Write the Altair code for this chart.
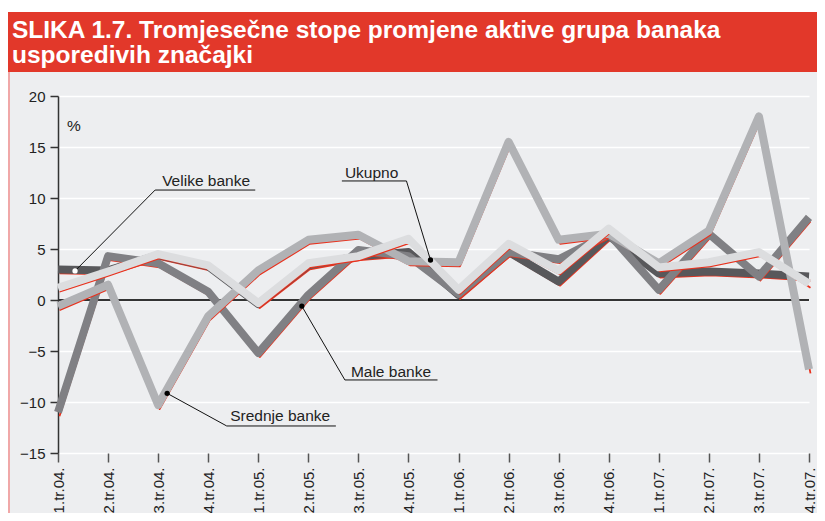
import altair as alt
import pandas as pd

# ---------------- data ----------------
quarters = ["1.tr.04.", "2.tr.04.", "3.tr.04.", "4.tr.04.",
            "1.tr.05.", "2.tr.05.", "3.tr.05.", "4.tr.05.",
            "1.tr.06.", "2.tr.06.", "3.tr.06.", "4.tr.06.",
            "1.tr.07.", "2.tr.07.", "3.tr.07.", "4.tr.07."]

series_names = ["Velike banke", "Male banke", "Srednje banke", "Ukupno"]
velike = [3.0, 2.9, 4.4, 3.3, -0.4, 3.4, 4.3, 4.7, 0.5, 4.7, 1.8, 6.3, 2.6, 2.8, 2.6, 2.3]
male = [-11.0, 4.3, 3.6, 0.8, -5.2, 0.5, 4.9, 4.3, 0.6, 4.7, 4.0, 6.5, 1.0, 6.5, 2.3, 8.1]
srednje = [-0.6, 1.5, -10.3, -1.6, 2.9, 5.9, 6.4, 3.8, 3.7, 15.5, 5.9, 6.5, 3.6, 6.8, 18.0, -6.8]
ukupno = [1.2, 2.8, 4.5, 3.4, -0.3, 3.6, 4.3, 6.0, 1.0, 5.5, 2.9, 7.0, 3.2, 3.7, 4.7, 1.6]

series_colors = ["#58585b", "#808084", "#b1b2b5", "#dcdddf"]
red = "#e8321e"

title_lines = ["SLIKA 1.7. Tromjesečne stope promjene aktive grupa banaka",
               "usporedivih značajki"]

# annotation labels (in data coordinates: quarter index, percent)
ann_names = ["Velike banke", "Ukupno", "Male banke", "Srednje banke"]
ann_text_x = [2.08, 5.73, 5.85, 3.44]
ann_text_y = [11.18, 11.96, -7.55, -11.86]
ann_dot_x = [0.34, 7.44, 4.87, 2.18]
ann_dot_y = [2.85, 3.92, -0.6, -9.15]
ann_elbow_x = [1.94, 6.96, 5.73, 3.37]
ann_elbow_y = [10.78, 11.67, -7.84, -12.35]
ann_end_x = [3.94, 5.67, 7.58, 5.55]
ann_end_y = [10.78, 11.67, -7.84, -12.35]
ann_dot_colors = ["white", "black", "black", "black"]

unit_label = ["%"]
unit_x = [0.18]
unit_y = [16.57]

# ---------------- tables ----------------
rows = []
for name, vals in zip(series_names, [velike, male, srednje, ukupno]):
    for i, v in enumerate(vals):
        rows.append({"series": name, "i": i, "v": v})
df = pd.DataFrame(rows)

leader_rows = []
for k, n in enumerate(ann_names):
    leader_rows.append({"ann": n, "o": 0, "x": ann_dot_x[k], "y": ann_dot_y[k]})
    leader_rows.append({"ann": n, "o": 1, "x": ann_elbow_x[k], "y": ann_elbow_y[k]})
    leader_rows.append({"ann": n, "o": 2, "x": ann_end_x[k], "y": ann_end_y[k]})
leaders = pd.DataFrame(leader_rows)
dots = pd.DataFrame({"ann": ann_names, "x": ann_dot_x, "y": ann_dot_y, "c": ann_dot_colors})
texts = pd.DataFrame({"t": ann_names + unit_label,
                      "x": ann_text_x + unit_x,
                      "y": ann_text_y + unit_y})

# ---------------- scales / axes ----------------
FONT = "Liberation Sans"
xscale = alt.Scale(domain=[0, 15], nice=False, zero=False)
yscale = alt.Scale(domain=[-15, 20], nice=False, zero=False)
label_expr = "[" + ",".join("'%s'" % q for q in quarters) + "][datum.value]"

xaxis = alt.Axis(values=list(range(len(quarters))), labelExpr=label_expr,
                 labelAngle=270, labelAlign="right", labelBaseline="middle",
                 labelFontSize=15, labelColor="#222", labelFont=FONT,
                 labelPadding=5, tickSize=9, tickColor="#555", tickWidth=1.5,
                 domain=False, grid=False, title=None, labelOverlap=False,
                 labelFlush=False)
yaxis = alt.Axis(values=list(range(-15, 21, 5)), labelFontSize=15,
                 labelColor="#222", labelFont=FONT, labelPadding=5,
                 tickSize=8, tickColor="#333", tickWidth=1.5,
                 domain=True, domainColor="#333", domainWidth=1.5,
                 grid=True, gridColor="white", gridWidth=1.5, title=None)


def X(field):
    return alt.X(field, scale=xscale, axis=xaxis)


def Y(field):
    return alt.Y(field, scale=yscale, axis=yaxis)


one = pd.DataFrame({"k": [0]})

# ---------------- decorations ----------------
top_white = alt.Chart(one).mark_rect(color="white").encode(
    x=alt.value(-50), x2=alt.value(759), y=alt.value(-88), y2=alt.value(-84))
title_bar = alt.Chart(one).mark_rect(color="#e2382a").encode(
    x=alt.value(-50), x2=alt.value(759), y=alt.value(-84), y2=alt.value(-24))
left_border = alt.Chart(one).mark_rule(color="#f09090", strokeWidth=1.5).encode(
    x=alt.value(-49), y=alt.value(-24), y2=alt.value(417))
title1 = alt.Chart(one).mark_text(
    align="left", baseline="alphabetic", fontSize=24.5, fontWeight="bold",
    color="white", font=FONT, text=title_lines[0]).encode(
    x=alt.value(-46), y=alt.value(-58))
title2 = alt.Chart(one).mark_text(
    align="left", baseline="alphabetic", fontSize=24.5, fontWeight="bold",
    color="white", font=FONT, text=title_lines[1]).encode(
    x=alt.value(-46), y=alt.value(-33))

zero_rule = alt.Chart(pd.DataFrame({"z": [0]})).mark_rule(
    color="#333", strokeWidth=2).encode(y=Y("z:Q"))

# ---------------- series ----------------
series_layers = []
for name, col in zip(series_names, series_colors):
    base = alt.Chart(df).transform_filter(alt.datum.series == name)
    series_layers.append(base.mark_line(
        color=red, strokeWidth=1.8, xOffset=1.5, yOffset=4,
        strokeJoin="round").encode(x=X("i:Q"), y=Y("v:Q"), order="i:Q"))
    series_layers.append(base.mark_line(
        color=col, strokeWidth=8, strokeJoin="round", strokeCap="butt").encode(
        x=X("i:Q"), y=Y("v:Q"), order="i:Q"))

# ---------------- annotations ----------------
leader_layer = alt.Chart(leaders).mark_line(color="#111", strokeWidth=1).encode(
    x=X("x:Q"), y=Y("y:Q"), detail="ann:N", order="o:Q")
dot_layer = alt.Chart(dots).mark_point(filled=True, size=28, opacity=1).encode(
    x=X("x:Q"), y=Y("y:Q"), color=alt.Color("c:N", scale=None))
text_layer = alt.Chart(texts).mark_text(
    align="left", baseline="alphabetic", fontSize=15.5, color="#222",
    font=FONT).encode(x=X("x:Q"), y=Y("y:Q"), text="t:N")

chart = alt.layer(
    top_white, title_bar, left_border, title1, title2, zero_rule,
    *series_layers, leader_layer, dot_layer, text_layer
).properties(
    width=751, height=357,
    autosize=alt.AutoSizeParams(type="none"),
    padding={"left": 50, "top": 88, "right": 8, "bottom": 60},
    background="#edeef0",
).configure_view(stroke="transparent")

chart.save("out.html", embed_options={"renderer": "svg", "actions": False})
